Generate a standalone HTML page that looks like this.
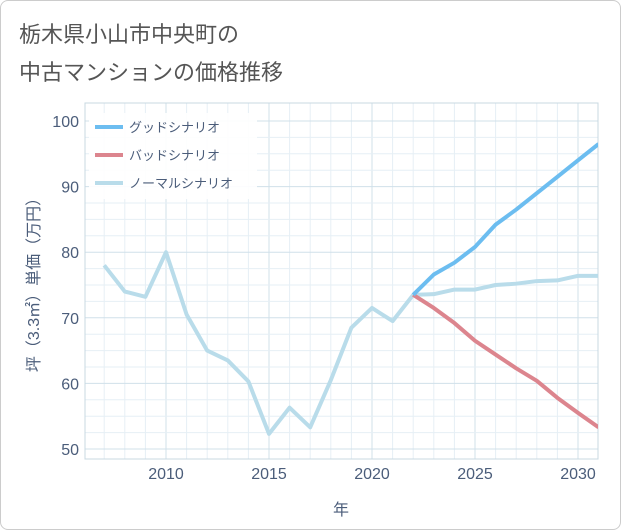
<!DOCTYPE html>
<html><head><meta charset="utf-8"><style>
body{margin:0;background:#fff;font-family:"Liberation Sans","Noto Sans CJK JP",sans-serif;}
#wrap{position:relative;width:619px;height:528px;border:1px solid #ccc;border-radius:8px;overflow:hidden;background:#fff}
.t{position:absolute;left:18px;font-size:22px;color:#555;}
</style></head><body>
<div id="wrap">
<div class="t" style="top:16px">栃木県小山市中央町の</div>
<div class="t" style="top:54px">中古マンションの価格推移</div>
<svg id="c" width="621" height="530" style="position:absolute;left:0;top:0"></svg>
</div>
<script>
const years=[2007,2008,2009,2010,2011,2012,2013,2014,2015,2016,2017,2018,2019,2020,2021,2022,2023,2024,2025,2026,2027,2028,2029,2030,2031];
const normal=[78,74,73.2,80,70.5,65,63.5,60.3,52.3,56.3,53.3,60.5,68.5,71.5,69.5,73.5,73.6,74.3,74.3,75,75.2,75.6,75.7,76.4,76.4];
const futureYears=[2022,2023,2024,2025,2026,2027,2028,2029,2030,2031];
const good=[73.5,76.6,78.4,80.8,84.2,86.5,89,91.5,94,96.5];
const bad=[73.5,71.5,69.2,66.5,64.4,62.3,60.4,57.8,55.5,53.3];
const xTicks=[2010,2015,2020,2025,2030];
const yTicks=[50,60,70,80,90,100];
const legendLabels=["グッドシナリオ","バッドシナリオ","ノーマルシナリオ"];
const X=v=>165+(v-2010)*20.6;
const Y=v=>448-(v-50)*6.56;
const L=84,R=597,T=102,B=458;
const svg=document.getElementById('c');const NS="http://www.w3.org/2000/svg";
function mk(t,a,p){const e=document.createElementNS(NS,t);for(const k in a)e.setAttribute(k,a[k]);(p||svg).appendChild(e);return e;}
const g=mk('g',{});


for(let y=2007;y<=2031;y++){if(X(y)>L&&X(y)<R){mk('line',{x1:X(y),x2:X(y),y1:T,y2:B,stroke:y%5==0?'#d0e0ea':'#e6eff5','stroke-width':1},g);}}
for(let v=50;v<=100;v+=2.5){mk('line',{x1:L,x2:R,y1:Y(v),y2:Y(v),stroke:v%10==0?'#d0e0ea':'#e6eff5','stroke-width':1},g);}
mk('rect',{x:L,y:T,width:R-L,height:B-T,fill:'none',stroke:'#c8d8e2'});
xTicks.forEach(v=>{const t=mk('text',{x:X(v),y:478,'text-anchor':'middle','font-size':16,fill:'#4b5d7a'});t.textContent=v;

});
yTicks.forEach(v=>{const t=mk('text',{x:78,y:Y(v)+6,'text-anchor':'end','font-size':16,fill:'#4b5d7a'});t.textContent=v;

});
const xt=mk('text',{x:340,y:514,'text-anchor':'middle','font-size':16,fill:'#4b5d7a'});xt.textContent='年';


const yt=mk('text',{transform:'translate(38,280) rotate(-90)','text-anchor':'middle','font-size':16,fill:'#4b5d7a'});yt.textContent='坪（3.3㎡）単価（万円）';


const cp=mk('clipPath',{id:'cp'});mk('rect',{x:L,y:T,width:R-L,height:B-T},cp);
function line(xs,ys,col,name){const p=mk('polyline',{points:xs.map((x,i)=>X(x)+','+Y(ys[i])).join(' '),fill:'none',stroke:col,'stroke-width':4,'stroke-linejoin':'round','clip-path':'url(#cp)'});

}
line(years,normal,'#b9dcea','normal-scenario-line');
line(futureYears,bad,'#dc858e','bad-scenario-line');
line(futureYears,good,'#6cbdf0','good-scenario-line');
const lg=mk('g',{});


mk('rect',{x:88,y:112,width:168,height:86,fill:'#fff',opacity:0.9},lg);
const lc=['#6cbdf0','#dc858e','#b9dcea'];
legendLabels.forEach((s,i)=>{const y=126+i*28;mk('line',{x1:94,x2:122,y1:y,y2:y,stroke:lc[i],'stroke-width':4},lg);
const t=mk('text',{x:128,y:y+5,'font-size':13,fill:'#4b5d7a'},lg);t.textContent=s;

});
</script>
</body></html>
